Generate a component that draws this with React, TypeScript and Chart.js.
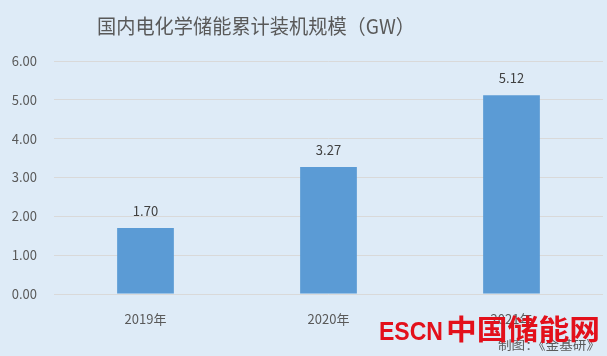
import React, { useEffect, useRef } from "react";
import { Chart, registerables } from "chart.js";

Chart.register(...registerables);

const categories = ["2019年", "2020年", "2021年"];
const capacityGW = [1.7, 3.27, 5.12];
const yTicks = [0, 1, 2, 3, 4, 5, 6];
const titleText = "国内电化学储能累计装机规模（GW）";
const watermarkMain = "ESCN";
const watermarkCN = "中国储能网";
const sourceText = "制图：《金基研》";

const FONT = "'Noto Sans CJK SC', 'Noto Sans', sans-serif";

function fitText(ctx: CanvasRenderingContext2D, text: string, x: number, y: number, w: number) {
  const m = ctx.measureText(text).width;
  ctx.save();
  ctx.translate(x, y);
  ctx.scale(w / m, 1);
  ctx.fillText(text, 0, 0);
  ctx.restore();
}

export default function App() {
  const ref = useRef<HTMLCanvasElement | null>(null);

  useEffect(() => {
    const canvas = ref.current!;
    const decor = {
      id: "decor",
      beforeDraw(chart: any) {
        const ctx = chart.ctx;
        ctx.save();
        ctx.fillStyle = "#deebf7";
        ctx.fillRect(0, 0, chart.width, chart.height);
        ctx.fillStyle = "#595959";
        ctx.font = `20px ${FONT}`;
        ctx.textAlign = "left";
        ctx.textBaseline = "middle";
        fitText(ctx, titleText, 97, 26, 318);
        ctx.restore();
      },
      afterDatasetsDraw(chart: any) {
        const ctx = chart.ctx;
        const meta = chart.getDatasetMeta(0);
        ctx.save();
        ctx.fillStyle = "#404040";
        ctx.font = `13px ${FONT}`;
        ctx.textAlign = "center";
        ctx.textBaseline = "middle";
        meta.data.forEach((bar: any, i: number) => {
          ctx.fillText(capacityGW[i].toFixed(2), bar.x, bar.y - 17);
        });
        ctx.restore();
      },
      afterDraw(chart: any) {
        const ctx = chart.ctx;
        ctx.save();
        ctx.fillStyle = "#595959";
        ctx.font = `12.5px ${FONT}`;
        ctx.textAlign = "left";
        ctx.textBaseline = "middle";
        fitText(ctx, sourceText, 498, 345, 102);
        ctx.fillStyle = "#e3101b";
        ctx.textBaseline = "alphabetic";
        ctx.font = `bold 26px 'Liberation Sans', sans-serif`;
        fitText(ctx, watermarkMain, 379, 340, 64);
        ctx.font = `bold 28px ${FONT}`;
        fitText(ctx, watermarkCN, 446, 340, 154);
        ctx.restore();
      },
    };

    const chart = new Chart(canvas, {
      type: "bar",
      data: {
        labels: categories,
        datasets: [
          {
            data: capacityGW,
            backgroundColor: "#5b9bd5",
            borderWidth: 0,
            categoryPercentage: 1,
            barPercentage: 0.31,
          },
        ],
      },
      options: {
        responsive: false,
        animation: false,
        devicePixelRatio: 1,
        layout: { padding: { top: 61, right: 4, left: 0, bottom: 0 } },
        plugins: {
          legend: { display: false },
          title: { display: false },
          tooltip: { enabled: false },
        },
        scales: {
          x: {
            grid: { display: false },
            border: { display: false },
            ticks: { color: "#595959", font: { size: 13, family: FONT }, padding: 9 },
            afterFit: (s: any) => {
              s.height = 62;
            },
          },
          y: {
            min: 0,
            max: 6,
            afterBuildTicks: (s: any) => {
              s.ticks = yTicks.map((v) => ({ value: v }));
            },
            grid: { color: "#d9d9d9", lineWidth: 1, drawTicks: false },
            border: { display: false },
            ticks: {
              color: "#595959",
              font: { size: 13, family: FONT },
              padding: 17,
              callback: (v: any) => Number(v).toFixed(2),
            },
            afterFit: (s: any) => {
              s.width = 54;
            },
          },
        },
      },
      plugins: [decor],
    });
    return () => chart.destroy();
  }, []);

  return (
    <div style={{ position: "fixed", left: 0, top: 0, width: 607, height: 356 }}>
      <canvas ref={ref} width={607} height={356} style={{ width: 607, height: 356, display: "block" }} />
    </div>
  );
}
